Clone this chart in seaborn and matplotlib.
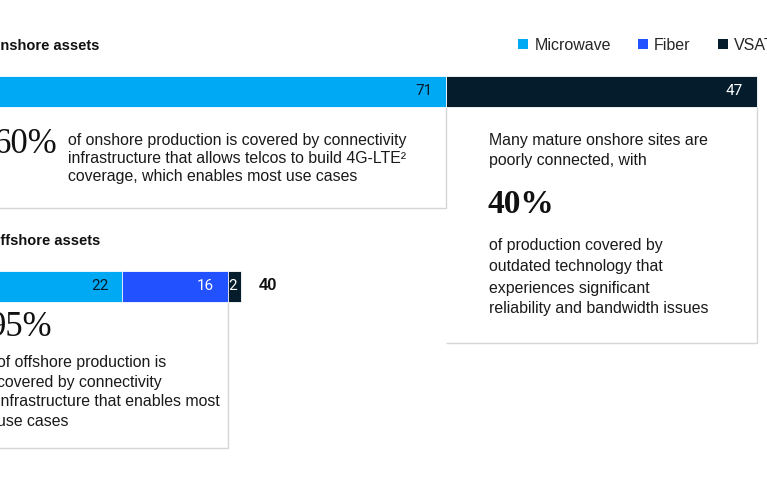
import numpy as np
import pandas as pd
import matplotlib
matplotlib.use('Agg')
import matplotlib.pyplot as plt
from matplotlib.patches import Patch
import seaborn as sns

# data
assets = ['Onshore assets', 'Offshore assets']
microwave = [71, 22]
fiber = [0, 16]
vsat = [47, 2]
totals = [118, 40]
series_names = ['Microwave', 'Fiber', 'VSAT']
colors = {'Microwave': '#00A9F4', 'Fiber': '#2251FF', 'VSAT': '#051C2C'}

onshore_big = '60%'
onshore_note = ['of onshore production is covered by connectivity',
                'infrastructure that allows telcos to build 4G-LTE²',
                'coverage, which enables most use cases']
mature_intro = ['Many mature onshore sites are', 'poorly connected, with']
mature_big = '40%'
mature_note = ['of production covered by', 'outdated technology that',
               'experiences significant', 'reliability and bandwidth issues']
offshore_big = '95%'
offshore_note = ['of offshore production is', 'covered by connectivity',
                 'infrastructure that enables most', 'use cases']

W, H = 767, 480
sns.set_theme(style='white')
plt.rcParams['font.family'] = ['Liberation Sans', 'DejaVu Sans']

fig = plt.figure(figsize=(W / 100, H / 100), dpi=100)
ax = fig.add_axes([0, 0, 1, 1])

# scale: value 0 sits at pixel -23, 6.61 px per unit; bar rows at px 91 and 286
PXU = 6.61
X0 = -23
ROW = 195
Y0 = 91

df = pd.DataFrame({'asset': assets, 'Microwave': microwave, 'Fiber': fiber, 'VSAT': vsat})
df['cum_mw'] = df['Microwave']
df['cum_fb'] = df['Microwave'] + df['Fiber']
df['cum_vs'] = df['cum_fb'] + df['VSAT']

bar_w = 31 / ROW
for col, name in [('cum_vs', 'VSAT'), ('cum_fb', 'Fiber'), ('cum_mw', 'Microwave')]:
    sns.barplot(data=df, x=col, y='asset', color=colors[name], width=bar_w, saturation=1,
                edgecolor='white', linewidth=0.6, ax=ax, orient='h')
ax.set_xlim(-X0 / PXU, (W - X0) / PXU)
ax.set_ylim((H - Y0) / ROW, -Y0 / ROW)
ax.set_axis_off()

# segment labels
for i, row in df.iterrows():
    start = 0
    for name in series_names:
        v = row[name]
        end = start + v
        if v > 0:
            pad = -4 if v < 5 else -14
            tc = '#051C2C' if name == 'Microwave' else 'white'
            ax.annotate(str(v), xy=(end, i), xytext=(pad, 0), textcoords='offset pixels',
                        ha='right', va='center', fontsize=11, color=tc,
                        family=['Roboto', 'DejaVu Sans'])
        start = end
    # total only when it falls inside the visible crop
    if totals[i] + 6 < ax.get_xlim()[1]:
        ax.annotate(str(totals[i]), xy=(totals[i], i), xytext=(17, 0), textcoords='offset pixels',
                    ha='left', va='center', fontsize=12, fontweight='bold', color='#111111')

# note boxes (layout helpers in pixels)
def yd(py):
    return (py - Y0) / ROW


line_kw = dict(color='#d6d6d6', lw=1, solid_capstyle='butt', zorder=0)
xl = ax.get_xlim()[0] - 1
ax.plot([xl, microwave[0], microwave[0]], [yd(208), yd(208), yd(107)], **line_kw)
ax.plot([totals[0], totals[0], microwave[0]], [yd(107), yd(343), yd(343)], **line_kw)
ax.plot([xl, microwave[1] + fiber[1], microwave[1] + fiber[1]], [yd(448), yd(448), yd(301)], **line_kw)


def ftext(px, py, s, **kw):
    fig.text(px / W, 1 - py / H, s, **kw)


def lines(px, py, step, items, size=11.4):
    for k, s in enumerate(items):
        ftext(px, py + k * step, s, ha='left', va='center', fontsize=size, color='#1a1a1a')


serif = ['Liberation Serif', 'DejaVu Serif']
ftext(-11, 46, assets[0], ha='left', va='center', fontsize=10.5, fontweight='bold', color='#111111')
ftext(-11, 241, assets[1], ha='left', va='center', fontsize=10.5, fontweight='bold', color='#111111')

ftext(57, 145, onshore_big, ha='right', va='center', fontsize=25, family=serif, color='#111111')
lines(68, 140, 18.5, onshore_note)

lines(489, 140, 20.5, mature_intro)
ftext(488, 205, mature_big, ha='left', va='center', fontsize=24, family=serif,
      fontweight='bold', color='#111111')
lines(489, 246, 21, mature_note)

ftext(53, 327, offshore_big, ha='right', va='center', fontsize=25, family=serif, color='#111111')
lines(-3, 363, 19.5, offshore_note)

# legend
handles = [Patch(facecolor=colors[n], edgecolor='none') for n in series_names]
fig.legend(handles, series_names, loc='center left', bbox_to_anchor=(518 / W, 1 - 45 / H),
           ncol=3, frameon=False, fontsize=11.5, handlelength=0.62, handleheight=0.62,
           handletextpad=0.4, columnspacing=1.7, borderpad=0, borderaxespad=0)

fig.savefig('out.png', dpi=100)
